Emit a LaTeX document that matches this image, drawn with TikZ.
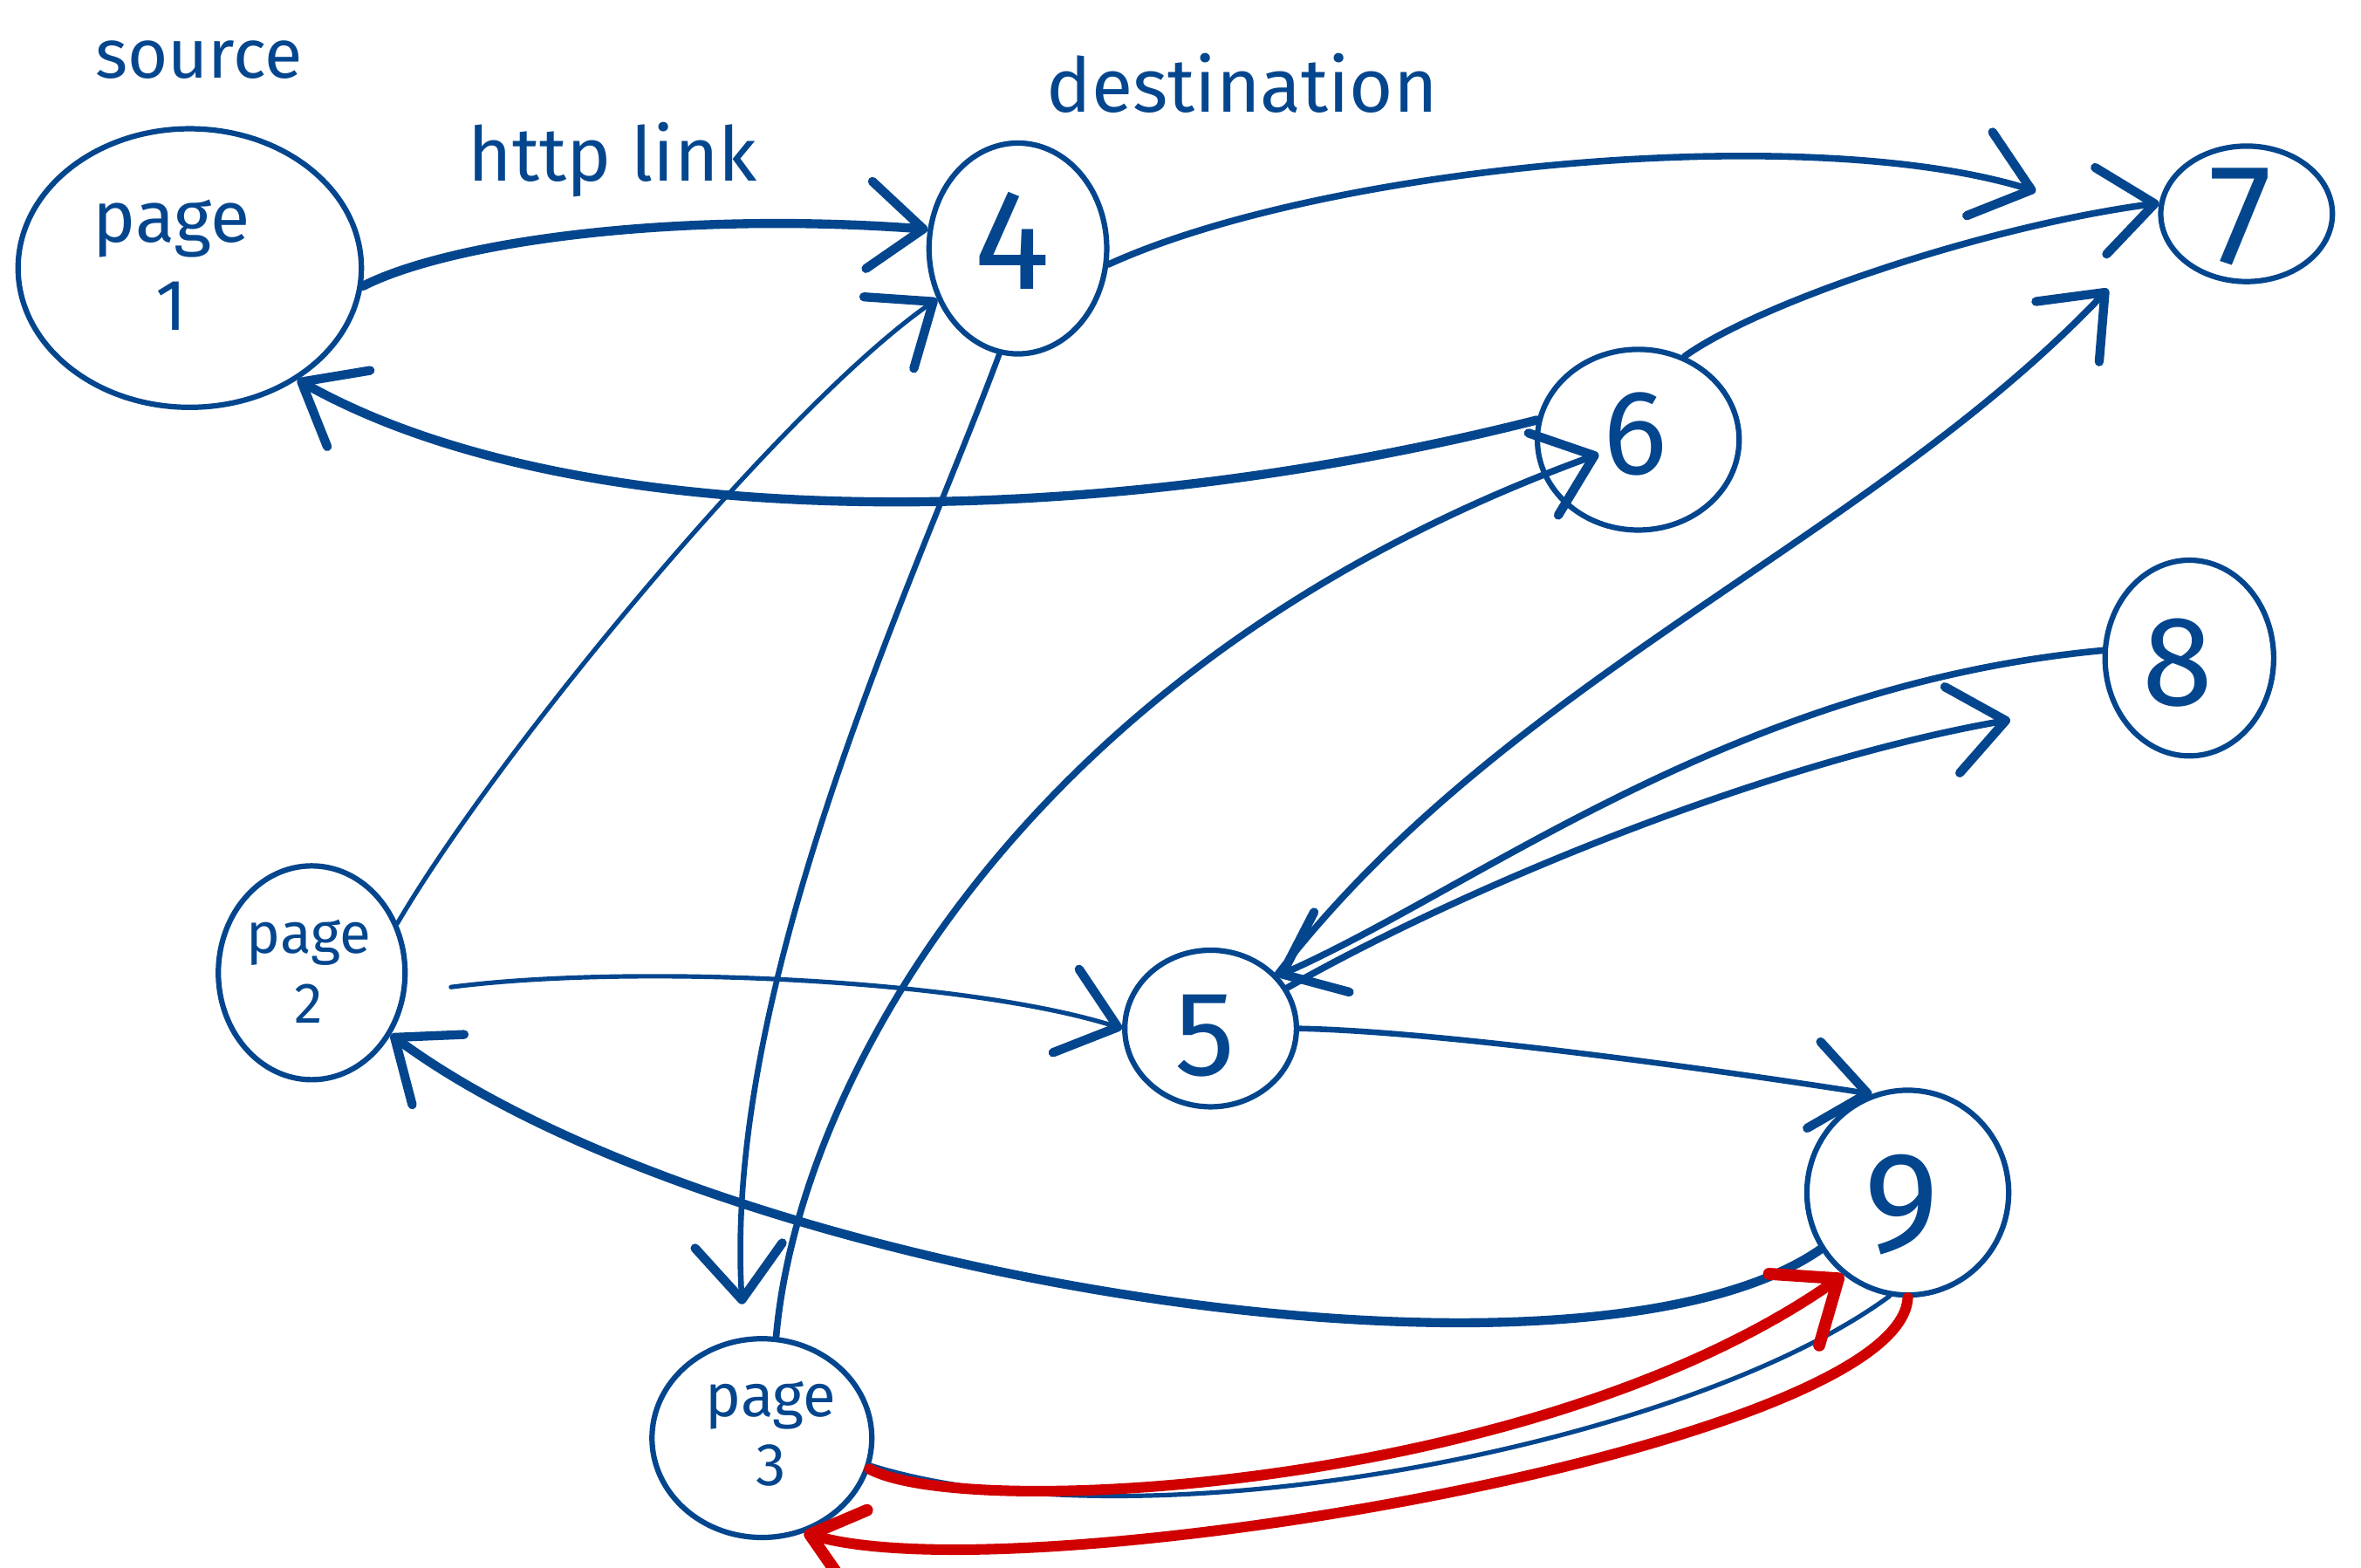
\documentclass[tikz,border=0pt]{standalone}
\usepackage{fontspec}
\setmainfont{Fira Sans}
\usetikzlibrary{arrows.meta,shapes.geometric}
\definecolor{ink}{HTML}{04468E}
\definecolor{redink}{HTML}{D00000}
\begin{document}
\begin{tikzpicture}[x=1pt,y=-1pt,
  every node/.style={text=ink},
  pg/.style={ellipse,draw=ink,line width=3.6pt,inner sep=0pt},
  dig/.style={font=\fontsize{95}{100}\selectfont},
  lbl/.style={font=\fontsize{44}{54}\selectfont,align=center},
  hand/.style={font=\fontsize{50}{60}\selectfont},
  e/.style={draw=ink,line width=3.8pt,line cap=round},
  ethin/.style={e,line width=3pt},
  emid/.style={e,line width=4.4pt},
  ethick/.style={e,line width=6pt},
  er/.style={draw=redink,line width=7pt,line cap=round},
  >={Straight Barb[length=36pt,width=58pt,line width=6pt,round]}
]
\useasboundingbox (0,0) rectangle (1568,1041);

% nodes
\node[pg,minimum width=228pt,minimum height=185pt] (p1) at (126,178) {};
\node[lbl,font=\fontsize{48}{58}\selectfont] (p1t) at (114,176) {page\\1};
\node[pg,minimum width=118pt,minimum height=140pt] (n4) at (676,165) {};
\node[dig] (n4t) at (672,160) {4};
\node[pg,minimum width=114pt,minimum height=90pt] (n7) at (1492,142) {};
\node[dig] (n7t) at (1488,144) {7};
\node[pg,minimum width=134pt,minimum height=120pt] (n6) at (1088,292) {};
\node[dig,font=\fontsize{80}{90}\selectfont] (n6t) at (1086,288) {6};
\node[pg,minimum width=112pt,minimum height=130pt] (n8) at (1454,437) {};
\node[dig,font=\fontsize{85}{90}\selectfont] (n8t) at (1446,440) {8};
\node[pg,minimum width=124pt,minimum height=142pt] (p2) at (207,646) {};
\node[lbl,font=\fontsize{38}{46}\selectfont] (p2t) at (205,645) {page\\2};
\node[pg,minimum width=114pt,minimum height=104pt] (n5) at (804,683) {};
\node[dig,font=\fontsize{80}{90}\selectfont] (n5t) at (800,688) {5};
\node[pg,minimum width=134pt,minimum height=136pt] (n9) at (1267,792) {};
\node[dig] (n9t) at (1263,800) {9};
\node[pg,minimum width=146pt,minimum height=132pt] (p3) at (506,955) {};
\node[lbl,font=\fontsize{40}{46}\selectfont] (p3t) at (512,952) {page\\3};

% free labels
\node[hand,font=\fontsize{46}{56}\selectfont] (src) at (132,40) {source};
\node[hand] (http) at (407,106) {http link};
\node[hand] (dest) at (825,55) {destination};

% tip coordinates for arrows that stop short of their node
\coordinate (t47) at (1352,127);
\coordinate (t57) at (1400,192);
\coordinate (t58) at (1335,478);

% blue connectors
\draw[ethick,->] (p1.-6) .. controls (300,160) and (450,140) .. (n4.168);
\draw[emid,->] (n4.-10) .. controls (880,110) and (1200,80) .. (t47);
\draw[emid,->] (n6.61) .. controls (1170,200) and (1320,150) .. (n7.173);
\draw[emid,->] (n5.39) .. controls (1000,450) and (1240,360) .. (t57);
\draw[ethick,->] (n6.169) .. controls (720,355) and (380,355) .. (p1.-46);
\draw[ethin,->] (p2.30) .. controls (330,500) and (520,270) .. (n4.-148);
\draw[e,->,shorten >=22pt] (n4.-100) .. controls (610,380) and (480,650) .. (p3.100);
\draw[emid,->,shorten >=28pt] (p3.82) .. controls (530,720) and (680,440) .. (n6.center);
\draw[ethin,->,shorten <=30pt] (p2.-12) .. controls (420,640) and (640,650) .. (n5.180);
\draw[ethick,->] (n9.-147) .. controls (1050,940) and (480,850) .. (p2.-38);
\draw[emid,->] (n8.175) .. controls (1150,455) and (980,590) .. (n5.38);
\draw[emid,->] (n5.28) .. controls (980,585) and (1180,505) .. (t58);
\draw[e,->] (n5.0) .. controls (960,685) and (1150,712) .. (n9.110);
\draw[ethin] (n9.-100) .. controls (1120,960) and (760,1030) .. (p3.-14);

% red connectors
\draw[er,->,>={Straight Barb[length=36pt,width=58pt,line width=8pt,round]}] (p3.-16) .. controls (640,1010) and (1020,990) .. (n9.-128);
\draw[er,->,>={Straight Barb[length=32pt,width=52pt,line width=8pt,round]}] (n9.-90) .. controls (1262,960) and (680,1060) .. (p3.-66);
\end{tikzpicture}
\end{document}
